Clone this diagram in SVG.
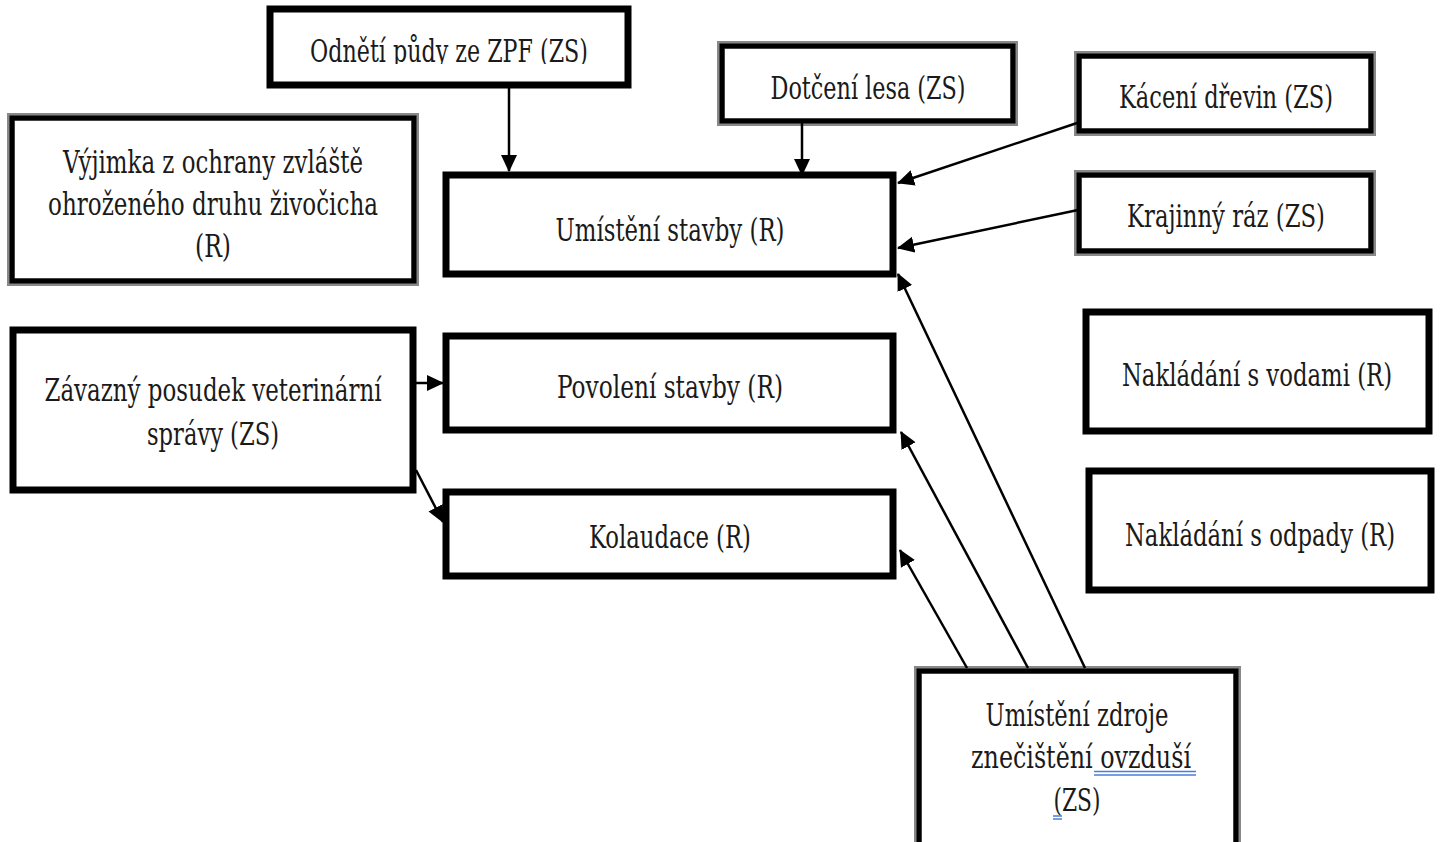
<svg xmlns="http://www.w3.org/2000/svg" width="1443" height="842" viewBox="0 0 1443 842">
<style>
.bx{fill:#fff;stroke:#000;stroke-width:7}
.bo{fill:#fff;stroke:#888;stroke-width:8}
.bi{fill:none;stroke:#000;stroke-width:5}
.t{font-family:"DejaVu Serif","Liberation Serif",serif;font-stretch:condensed;font-size:31px;fill:#1a1a1a;text-anchor:middle}
.c{stroke:#000;stroke-width:2.5;fill:none;marker-end:url(#ah)}
.sq{stroke:#4a7fd8;stroke-width:1.6;fill:none}
</style>
<defs>
<marker id="ah" markerUnits="userSpaceOnUse" markerWidth="18" markerHeight="18" viewBox="0 0 18 18" refX="16" refY="9" orient="auto">
<path d="M0,1 L17,9 L0,17 Z" fill="#000"/>
</marker>
<clipPath id="clipZPF"><rect x="272" y="10" width="354" height="54"/></clipPath>
</defs>
<rect width="1443" height="842" fill="#fff"/>

<g id="n-zpf">
<rect class="bx" x="270" y="9" width="358" height="76"/>
<text class="t" x="449" y="62" textLength="278" lengthAdjust="spacingAndGlyphs" clip-path="url(#clipZPF)">Odnětí půdy ze ZPF (ZS)</text>
</g>
<g id="n-les">
<rect class="bo" x="721" y="45" width="293" height="77"/>
<rect class="bi" x="722" y="46" width="291" height="75"/>
<text class="t" x="868" y="99" textLength="195" lengthAdjust="spacingAndGlyphs">Dotčení lesa (ZS)</text>
</g>
<g id="n-kaceni">
<rect class="bo" x="1078" y="55" width="294" height="77"/>
<rect class="bi" x="1079" y="56" width="292" height="75"/>
<text class="t" x="1226" y="108" textLength="214" lengthAdjust="spacingAndGlyphs">Kácení dřevin (ZS)</text>
</g>
<g id="n-kraj">
<rect class="bo" x="1078" y="174" width="294" height="78"/>
<rect class="bi" x="1079" y="175" width="292" height="76"/>
<text class="t" x="1226" y="227" textLength="198" lengthAdjust="spacingAndGlyphs">Krajinný ráz (ZS)</text>
</g>
<g id="n-vyjimka">
<rect class="bo" x="11" y="117" width="404" height="165"/>
<rect class="bi" x="12" y="118" width="402" height="163"/>
<text class="t" x="213" y="173" textLength="300" lengthAdjust="spacingAndGlyphs">Výjimka z ochrany zvláště</text>
<text class="t" x="213" y="215" textLength="330" lengthAdjust="spacingAndGlyphs">ohroženého druhu živočicha</text>
<text class="t" x="213" y="257" textLength="36" lengthAdjust="spacingAndGlyphs">(R)</text>
</g>
<g id="n-umisteni">
<rect class="bx" x="446" y="175" width="447" height="99"/>
<text class="t" x="670" y="241" textLength="229" lengthAdjust="spacingAndGlyphs">Umístění stavby (R)</text>
</g>
<g id="n-zavazny">
<rect class="bx" x="13" y="330" width="400" height="160"/>
<text class="t" x="213" y="401" textLength="337" lengthAdjust="spacingAndGlyphs">Závazný posudek veterinární</text>
<text class="t" x="213" y="445" textLength="132" lengthAdjust="spacingAndGlyphs">správy (ZS)</text>
</g>
<g id="n-povoleni">
<rect class="bx" x="446" y="336" width="447" height="94"/>
<text class="t" x="670" y="398" textLength="226" lengthAdjust="spacingAndGlyphs">Povolení stavby (R)</text>
</g>
<g id="n-kolaudace">
<rect class="bx" x="446" y="492" width="447" height="84"/>
<text class="t" x="670" y="548" textLength="162" lengthAdjust="spacingAndGlyphs">Kolaudace (R)</text>
</g>
<g id="n-vody">
<rect class="bx" x="1086" y="312" width="343" height="119"/>
<text class="t" transform="matrix(0.7,0,0,1,1257,386)" x="0" y="0" textLength="386" lengthAdjust="spacingAndGlyphs">Nakládání s vodami (R)</text>
</g>
<g id="n-odpady">
<rect class="bx" x="1089" y="471" width="342" height="119"/>
<text class="t" transform="matrix(0.7,0,0,1,1260,546)" x="0" y="0" textLength="386" lengthAdjust="spacingAndGlyphs">Nakládání s odpady (R)</text>
</g>
<g id="n-zdroj">
<rect class="bo" x="918" y="670" width="319" height="180"/>
<rect class="bi" x="919" y="671" width="317" height="178"/>
<text class="t" x="1077" y="726" textLength="183" lengthAdjust="spacingAndGlyphs">Umístění zdroje</text>
<text class="t" x="1081" y="768" textLength="220" lengthAdjust="spacingAndGlyphs">znečištění ovzduší</text>
<text class="t" x="1077" y="811" textLength="47" lengthAdjust="spacingAndGlyphs">(ZS)</text>
<path class="sq" d="M1094,771.5 H1196 M1094,775 H1196 M1053,816 H1062 M1053,819 H1062"/>
</g>

<g id="connectors">
<line class="c" x1="509" y1="86" x2="509" y2="171"/>
<line class="c" x1="802" y1="123" x2="802" y2="175"/>
<line class="c" x1="1080" y1="122" x2="898" y2="183"/>
<line class="c" x1="1078" y1="210" x2="898" y2="248"/>
<line class="c" x1="1085" y1="668" x2="898" y2="274"/>
<line class="c" x1="1028" y1="668" x2="901" y2="432"/>
<line class="c" x1="967" y1="668" x2="900" y2="550"/>
<line class="c" x1="414" y1="383" x2="443" y2="383"/>
<line class="c" x1="416" y1="470" x2="443" y2="522"/>
</g>
</svg>
